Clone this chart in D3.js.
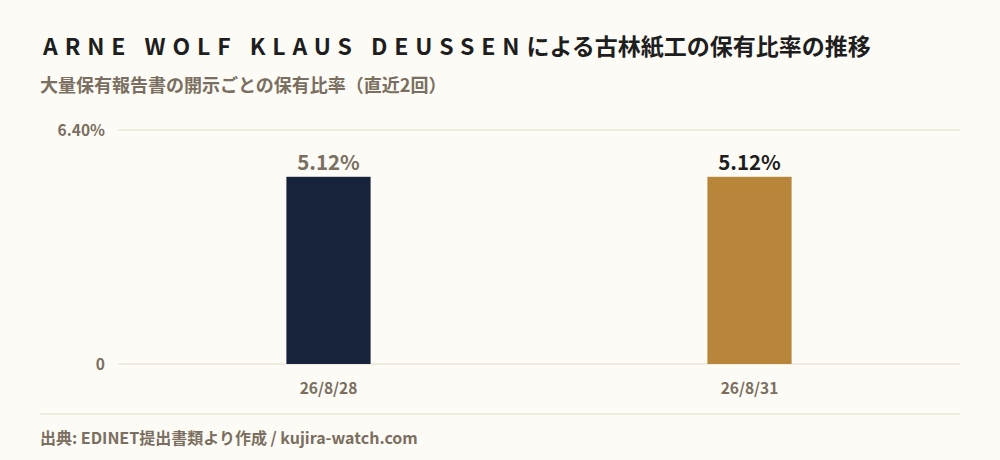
<!DOCTYPE html>
<html>
<head>
<meta charset="utf-8">
<script src="https://cdn.jsdelivr.net/npm/d3@7"></script>
<style>
  html, body { margin: 0; padding: 0; background: #fdfbf6; }
  svg { display: block; font-family: "Noto Sans CJK JP", "Noto Sans", sans-serif; }
</style>
</head>
<body>
<svg id="chart" width="1000" height="460"></svg>
<script>
const holderName = "ARNE WOLF KLAUS DEUSSEN";
const titleRest = "による古林紙工の保有比率の推移";
const subtitle = "大量保有報告書の開示ごとの保有比率（直近2回）";
const source = "出典: EDINET提出書類より作成 / kujira-watch.com";

const dates = ["26/8/28", "26/8/31"];
const ratios = [5.12, 5.12];
const barColors = ["#17223b", "#b8863b"];
const labelColors = ["#7a6f60", "#1e1e1e"];
const yMax = 6.40;
const yTicks = [0, 6.40];

const svg = d3.select("#chart");
const W = 1000, H = 460;
const margin = { top: 130, right: 40, bottom: 96, left: 118 };
const grey = "#7a6f60";

svg.append("rect").attr("width", W).attr("height", H).attr("fill", "#fdfbf6");

// title
const title = svg.append("text")
  .attr("x", 43).attr("y", 55)
  .attr("font-size", 23).attr("font-weight", 700).attr("fill", "#1e1e1e");
title.append("tspan").attr("letter-spacing", "0.3em").text(holderName);
title.append("tspan").text(titleRest);

svg.append("text")
  .attr("x", 40).attr("y", 92)
  .attr("font-size", 18).attr("font-weight", 700).attr("fill", grey)
  .text(subtitle);

const x = d3.scaleBand().domain(dates).range([margin.left, W - margin.right]).padding(0);
const y = d3.scaleLinear().domain([0, yMax]).range([H - margin.bottom, margin.top]);

// grid
svg.append("g").selectAll("line").data(yTicks).join("line")
  .attr("x1", margin.left).attr("x2", W - margin.right)
  .attr("y1", d => y(d)).attr("y2", d => y(d))
  .attr("stroke", "#e6dcc6").attr("stroke-width", 1);

svg.append("g").selectAll("text").data(yTicks).join("text")
  .attr("x", 105).attr("y", d => y(d) + 6)
  .attr("text-anchor", "end")
  .attr("font-size", 15.5).attr("font-weight", 700).attr("fill", grey)
  .text(d => d === 0 ? "0" : d.toFixed(2) + "%");

// bars
const bw = x.bandwidth() * 0.2;
svg.append("g").selectAll("rect").data(ratios).join("rect")
  .attr("x", (d, i) => x(dates[i]) + x.bandwidth() / 2 - bw / 2)
  .attr("y", d => y(d))
  .attr("width", bw)
  .attr("height", d => y(0) - y(d))
  .attr("fill", (d, i) => barColors[i]);

svg.append("g").selectAll("text").data(ratios).join("text")
  .attr("x", (d, i) => x(dates[i]) + x.bandwidth() / 2)
  .attr("y", d => y(d) - 7)
  .attr("text-anchor", "middle")
  .attr("font-size", 20.5).attr("font-weight", 700)
  .attr("fill", (d, i) => labelColors[i])
  .text(d => d.toFixed(2) + "%");

// x labels
svg.append("g").selectAll("text").data(dates).join("text")
  .attr("x", d => x(d) + x.bandwidth() / 2)
  .attr("y", H - margin.bottom + 30)
  .attr("text-anchor", "middle")
  .attr("font-size", 15.5).attr("font-weight", 700).attr("fill", grey)
  .text(d => d);

// footer
svg.append("line")
  .attr("x1", 40).attr("x2", W - margin.right)
  .attr("y1", 414).attr("y2", 414)
  .attr("stroke", "#e6dcc6");

svg.append("text")
  .attr("x", 40).attr("y", 444)
  .attr("font-size", 16).attr("font-weight", 700).attr("fill", grey)
  .text(source);
</script>
</body>
</html>
